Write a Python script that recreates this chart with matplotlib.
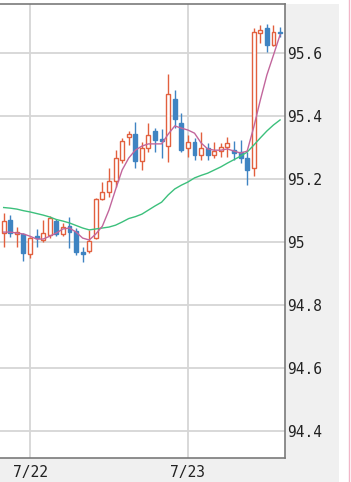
import matplotlib
matplotlib.use("Agg")
import matplotlib.pyplot as plt
from matplotlib.patches import Rectangle
from matplotlib.lines import Line2D

# hourly candles, hour offset from 7/22 00:00
hours = list(range(-4, 39))

opens = [95.027, 95.068, 95.024, 95.024, 94.960, 95.017, 95.005, 95.021, 95.065, 95.024,
         95.049, 95.033, 94.967, 94.970, 95.011, 95.135, 95.157, 95.192, 95.259, 95.332,
         95.341, 95.256, 95.297, 95.351, 95.325, 95.303, 95.452, 95.376, 95.297, 95.316,
         95.275, 95.297, 95.275, 95.287, 95.300, 95.290, 95.284, 95.265, 95.233, 95.662,
         95.678, 95.624, 95.665]
closes = [95.065, 95.027, 95.030, 94.963, 95.011, 95.011, 95.027, 95.075, 95.024, 95.046,
          95.030, 94.967, 94.960, 95.002, 95.135, 95.157, 95.192, 95.265, 95.319, 95.341,
          95.256, 95.297, 95.338, 95.322, 95.319, 95.468, 95.389, 95.290, 95.316, 95.275,
          95.297, 95.275, 95.287, 95.300, 95.313, 95.281, 95.265, 95.227, 95.665, 95.671,
          95.624, 95.665, 95.662]
highs = [95.090, 95.084, 95.046, 95.027, 95.014, 95.040, 95.068, 95.081, 95.071, 95.059,
         95.078, 95.043, 94.983, 95.037, 95.138, 95.189, 95.233, 95.290, 95.329, 95.351,
         95.379, 95.316, 95.376, 95.360, 95.357, 95.532, 95.481, 95.408, 95.338, 95.329,
         95.348, 95.313, 95.316, 95.313, 95.332, 95.319, 95.322, 95.284, 95.678, 95.687,
         95.690, 95.687, 95.681]
lows = [94.983, 95.014, 94.983, 94.938, 94.948, 94.983, 94.998, 95.011, 95.017, 95.017,
        94.979, 94.957, 94.935, 94.963, 95.008, 95.132, 95.141, 95.173, 95.249, 95.306,
        95.233, 95.227, 95.284, 95.284, 95.265, 95.252, 95.360, 95.284, 95.268, 95.259,
        95.259, 95.259, 95.265, 95.268, 95.268, 95.259, 95.249, 95.179, 95.208, 95.630,
        95.602, 95.621, 95.649]

# moving averages
ma_short = [95.030, 95.030, 95.027, 95.024, 95.017, 95.008, 95.008, 95.017, 95.027, 95.040,
            95.043, 95.030, 95.011, 95.005, 95.024, 95.049, 95.100, 95.165, 95.227, 95.265,
            95.290, 95.303, 95.310, 95.310, 95.310, 95.341, 95.367, 95.360, 95.354, 95.344,
            95.313, 95.294, 95.290, 95.290, 95.294, 95.287, 95.281, 95.287, 95.363, 95.449,
            95.529, 95.592, 95.656]
ma_long = [95.108, 95.106, 95.103, 95.098, 95.094, 95.089, 95.084, 95.078, 95.070, 95.065,
           95.059, 95.051, 95.043, 95.037, 95.040, 95.043, 95.046, 95.052, 95.062, 95.073,
           95.079, 95.087, 95.100, 95.113, 95.125, 95.148, 95.167, 95.179, 95.189, 95.202,
           95.210, 95.217, 95.227, 95.237, 95.249, 95.260, 95.271, 95.284, 95.306, 95.329,
           95.351, 95.370, 95.386]

date_ticks = [0, 24]
date_labels = ["7/22", "7/23"]
price_ticks = [94.4, 94.6, 94.8, 95, 95.2, 95.4, 95.6]
price_labels = ["94.4", "94.6", "94.8", "95", "95.2", "95.4", "95.6"]

up_col = "#e2603e"
down_col = "#3f84c2"

W, H = 351, 482
fig = plt.figure(figsize=(W / 100, H / 100), dpi=100)
fig.patch.set_facecolor("white")

# grey panel behind axis labels
fig.add_artist(Rectangle((0, 0), 339 / W, 478 / H, transform=fig.transFigure,
                         facecolor="#f0f0f0", edgecolor="none", zorder=0))
fig.add_artist(Line2D([348.5 / W, 348.5 / W], [0, 1], transform=fig.transFigure,
                      color="#f2b6c8", lw=1))

ax = fig.add_axes([0, 24 / H, 285 / W, 454 / H])
ax.set_facecolor("white")

for h, o, c, hi, lo in zip(hours, opens, closes, highs, lows):
    col = up_col if c >= o else down_col
    ax.vlines(h, lo, hi, color=col, lw=1.0, zorder=2)
    if c >= o:
        ax.bar(h, c - o, bottom=o, width=0.6, facecolor="white", edgecolor=col,
               lw=1.0, zorder=3)
    else:
        ax.bar(h, o - c, bottom=c, width=0.6, facecolor=col, edgecolor=col,
               lw=1.0, zorder=3)

ax.plot(hours, ma_long, color="#3cc07c", lw=1.0, zorder=4)
ax.plot(hours, ma_short, color="#c2669c", lw=1.0, zorder=4)

ax.set_xlim(-4.56, 38.75)
ax.set_ylim(94.313, 95.754)

ax.set_xticks(date_ticks)
ax.set_xticklabels(date_labels)
ax.set_yticks(price_ticks)
ax.set_yticklabels(price_labels)
ax.yaxis.tick_right()
ax.tick_params(length=0, labelsize=10.5, colors="#222222")
ax.tick_params(axis="y", pad=1.5)
ax.tick_params(axis="x", pad=5)
for lab in ax.get_xticklabels() + ax.get_yticklabels():
    lab.set_family("DejaVu Sans Mono")

ax.grid(True, color="#d6d6d6", lw=1.3, zorder=0)
ax.set_axisbelow(True)

for side in ["top", "right", "bottom"]:
    ax.spines[side].set_color("#7a7a7a")
    ax.spines[side].set_linewidth(1.2)
ax.spines["left"].set_visible(False)

fig.savefig("out.png", dpi=100)
